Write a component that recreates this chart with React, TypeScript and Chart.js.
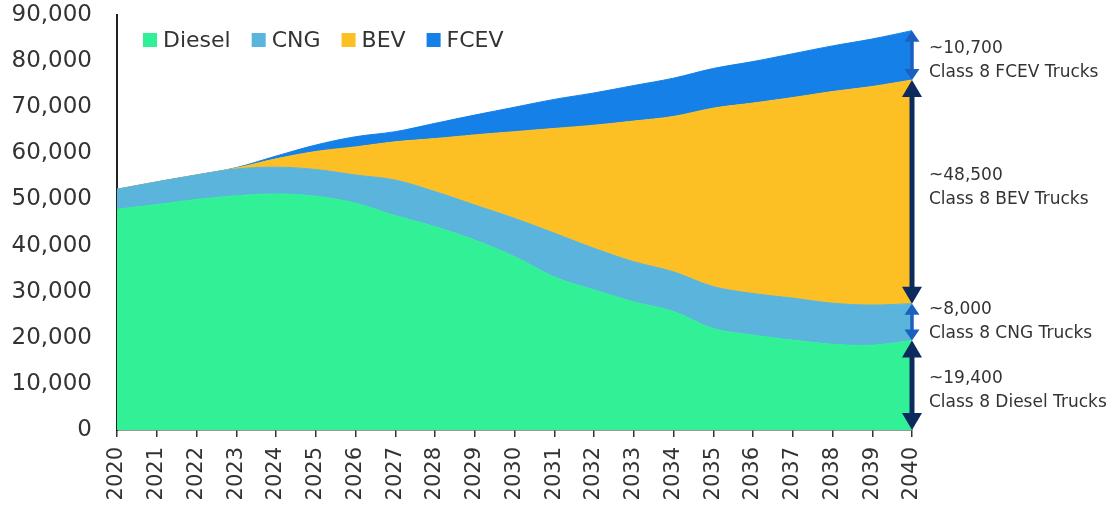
import React, { useEffect, useRef } from "react";
import { Chart, registerables } from "chart.js";

Chart.register(...registerables);

const years = ["2020","2021","2022","2023","2024","2025","2026","2027","2028","2029","2030","2031","2032","2033","2034","2035","2036","2037","2038","2039","2040"];
const seriesNames = ["Diesel", "CNG", "BEV", "FCEV"];
const diesel = [47900, 48900, 50000, 50800, 51200, 50700, 49200, 46500, 44100, 41200, 37600, 33200, 30400, 27800, 25700, 22000, 20600, 19500, 18600, 18400, 19400];
const cng = [4300, 4900, 5300, 5800, 5800, 5800, 6100, 7700, 7600, 7600, 8300, 9500, 9000, 8700, 8600, 9100, 9000, 9100, 8900, 8700, 8000];
const bev = [0, 0, 0, 200, 1800, 3900, 6100, 8300, 11500, 15200, 18800, 22700, 26700, 30500, 33700, 38700, 41300, 43500, 45900, 47400, 48500];
const fcev = [0, 0, 0, 100, 600, 1400, 2200, 2200, 3300, 4300, 5300, 6300, 7000, 7700, 8300, 8600, 9000, 9500, 9900, 10300, 10700];
const annotValues = ["~19,400", "~8,000", "~48,500", "~10,700"];
const annotLabels = ["Class 8 Diesel Trucks", "Class 8 CNG Trucks", "Class 8 BEV Trucks", "Class 8 FCEV Trucks"];

const COLORS = ["#32F096", "#5AB4DC", "#FCC025", "#1480E8"];
const FONT = "'DejaVu Sans', sans-serif";
const TEXT = "#333333";
const NAVY = "#0C2A5E";
const BLUE = "#1B5FBF";

function drawArrow(ctx: CanvasRenderingContext2D, x: number, yTop: number, yBot: number, color: string, lw: number, headW: number, headL: number) {
  ctx.save();
  ctx.strokeStyle = color;
  ctx.fillStyle = color;
  ctx.lineWidth = lw;
  ctx.beginPath();
  ctx.moveTo(x, yTop + headL - 1);
  ctx.lineTo(x, yBot - headL + 1);
  ctx.stroke();
  ctx.beginPath();
  ctx.moveTo(x, yTop);
  ctx.lineTo(x - headW / 2, yTop + headL);
  ctx.lineTo(x + headW / 2, yTop + headL);
  ctx.closePath();
  ctx.fill();
  ctx.beginPath();
  ctx.moveTo(x, yBot);
  ctx.lineTo(x - headW / 2, yBot - headL);
  ctx.lineTo(x + headW / 2, yBot - headL);
  ctx.closePath();
  ctx.fill();
  ctx.restore();
}

const legendPlugin = {
  id: "customLegend",
  afterDraw(chart: any) {
    const ctx = chart.ctx as CanvasRenderingContext2D;
    const area = chart.chartArea;
    ctx.save();
    ctx.font = `22px ${FONT}`;
    ctx.textBaseline = "middle";
    ctx.textAlign = "left";
    let x = area.left + 26;
    const y = area.top + 25;
    chart.data.datasets.forEach((ds: any) => {
      ctx.fillStyle = ds.backgroundColor;
      ctx.fillRect(x, y - 7, 14, 14);
      ctx.fillStyle = TEXT;
      ctx.fillText(ds.label, x + 20, y + 1);
      x += 20 + ctx.measureText(ds.label).width + 21;
    });
    ctx.restore();
  },
};

const annotPlugin = {
  id: "annotArrows",
  afterDraw(chart: any) {
    const ctx = chart.ctx as CanvasRenderingContext2D;
    const xs = chart.scales.x;
    const ys = chart.scales.y;
    const last = years.length - 1;
    const x = xs.getPixelForValue(last);
    const vals = [diesel[last], cng[last], bev[last], fcev[last]];
    const cum = [0];
    vals.forEach((v, i) => cum.push(cum[i] + v));
    const styles = [
      { c: NAVY, lw: 5, hw: 20, hl: 17 },
      { c: BLUE, lw: 3.5, hw: 15, hl: 11 },
      { c: NAVY, lw: 5, hw: 20, hl: 17 },
      { c: BLUE, lw: 3.5, hw: 15, hl: 11 },
    ];
    const nudge = [5, -1, -4, 5];
    for (let i = 0; i < 4; i++) {
      const yb = ys.getPixelForValue(cum[i]);
      const yt = ys.getPixelForValue(cum[i + 1]);
      const s = styles[i];
      drawArrow(ctx, x, yt, yb, s.c, s.lw, s.hw, s.hl);
    }
    ctx.save();
    ctx.font = `17px ${FONT}`;
    ctx.fillStyle = TEXT;
    ctx.textAlign = "left";
    ctx.textBaseline = "middle";
    for (let i = 0; i < 4; i++) {
      const mid = (ys.getPixelForValue(cum[i]) + ys.getPixelForValue(cum[i + 1])) / 2 + nudge[i];
      ctx.fillText(annotValues[i], x + 17, mid - 12);
      ctx.fillText(annotLabels[i], x + 17, mid + 12);
    }
    ctx.restore();
  },
};

export default function App() {
  const ref = useRef<HTMLCanvasElement | null>(null);
  useEffect(() => {
    if (!ref.current) return;
    const series = [diesel, cng, bev, fcev];
    const chart = new Chart(ref.current, {
      type: "line",
      data: {
        labels: years,
        datasets: series.map((d, i) => ({
          label: seriesNames[i],
          data: d,
          backgroundColor: COLORS[i],
          borderColor: COLORS[i],
          borderWidth: 1,
          pointRadius: 0,
          tension: 0.35,
          fill: i === 0 ? "origin" : "-1",
        })),
      },
      options: {
        responsive: true,
        maintainAspectRatio: false,
        animation: false,
        layout: { padding: { left: 0, right: 202, top: 15, bottom: 0 } },
        plugins: { legend: { display: false }, tooltip: { enabled: false } },
        scales: {
          x: {
            offset: false,
            grid: { display: true, drawOnChartArea: false, drawTicks: true, tickLength: 7, color: "#333", lineWidth: 1.5 },
            border: { display: true, color: "#333", width: 1.5 },
            ticks: { color: TEXT, font: { family: FONT, size: 21 }, minRotation: 90, maxRotation: 90, padding: 10, autoSkip: false },
            afterFit: (s: any) => { s.height = 78; },
          },
          y: {
            stacked: true,
            min: 0,
            max: 90000,
            grid: { display: false, drawTicks: false },
            border: { display: true, color: "#222", width: 2 },
            ticks: {
              stepSize: 10000,
              color: TEXT,
              padding: 25,
              font: { family: FONT, size: 23 },
              callback: (v: any) => Number(v).toLocaleString("en-US"),
            },
            afterFit: (s: any) => { s.width = 117; s.paddingTop = 10; s.paddingBottom = 10; },
          },
        },
      },
      plugins: [legendPlugin, annotPlugin],
    });
    return () => chart.destroy();
  }, []);
  return (
    <div style={{ position: "absolute", left: 0, top: 0, width: 1114, height: 508, background: "#fff" }}>
      <canvas ref={ref} />
    </div>
  );
}
